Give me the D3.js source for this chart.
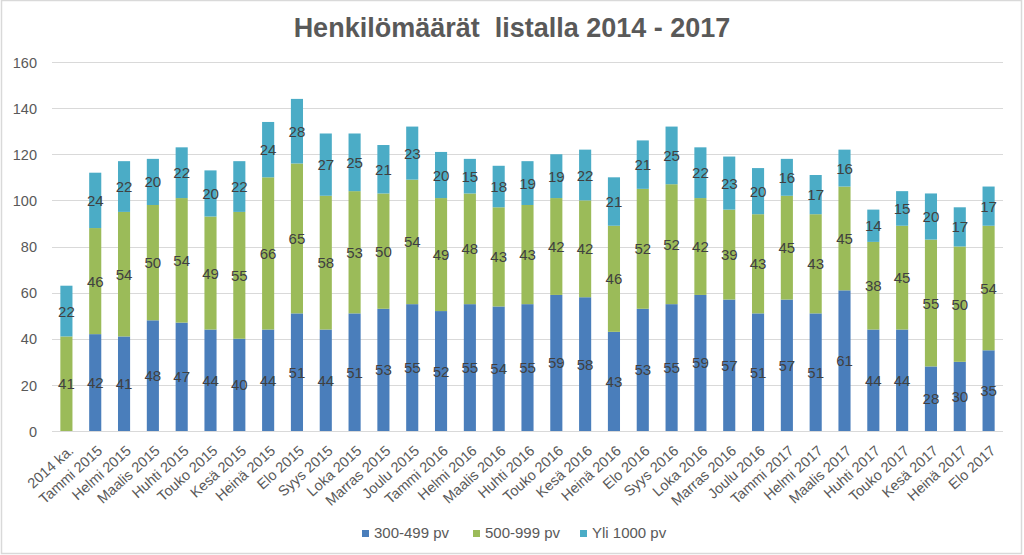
<!DOCTYPE html>
<html><head><meta charset="utf-8">
<script src="https://cdn.jsdelivr.net/npm/d3@7"></script>
<style>body{margin:0;background:#fff;}svg{display:block;font-family:"Liberation Sans",Arial,sans-serif;}</style>
</head><body><svg id="c" width="1024" height="555"></svg>
<script>
const categories = ["2014 ka.","Tammi 2015","Helmi 2015","Maalis 2015","Huhti 2015","Touko 2015","Kesä 2015","Heinä 2015","Elo 2015","Syys 2015","Loka 2015","Marras 2015","Joulu 2015","Tammi 2016","Helmi 2016","Maalis 2016","Huhti 2016","Touko 2016","Kesä 2016","Heinä 2016","Elo 2016","Syys 2016","Loka 2016","Marras 2016","Joulu 2016","Tammi 2017","Helmi 2017","Maalis 2017","Huhti 2017","Touko 2017","Kesä 2017","Heinä 2017","Elo 2017"];
const s300 = [0,42,41,48,47,44,40,44,51,44,51,53,55,52,55,54,55,59,58,43,53,55,59,57,51,57,51,61,44,44,28,30,35];
const s500 = [41,46,54,50,54,49,55,66,65,58,53,50,54,49,48,43,43,42,42,46,52,52,42,39,43,45,43,45,38,45,55,50,54];
const s1000 = [22,24,22,20,22,20,22,24,28,27,25,21,23,20,15,18,19,19,22,21,21,25,22,23,20,16,17,16,14,15,20,17,17];
const seriesNames = ["300-499 pv","500-999 pv","Yli 1000 pv"];
const yTicks = [0,20,40,60,80,100,120,140,160];
const title = "Henkilömäärät  listalla 2014 - 2017";
const colors = ["#4a7ebb","#9bbb59","#4bacc6"];

const svg = d3.select("#c");
svg.append("rect").attr("x",1.5).attr("y",0.5).attr("width",1020).attr("height",553)
  .attr("fill","#fff").attr("stroke","#d9d9d9").attr("stroke-width",1.5);

const L=52,R=1003,T=62,B=431;
const x = d3.scaleBand().domain(categories).range([L,R]).paddingInner(0.58).paddingOuter(0.29);
const y = d3.scaleLinear().domain([0,160]).range([B,T]);

// grid
svg.append("g").selectAll("line").data(yTicks).join("line")
  .attr("x1",L).attr("x2",R).attr("y1",d=>Math.round(y(d))+0.5).attr("y2",d=>Math.round(y(d))+0.5)
  .attr("stroke","#d9d9d9").attr("stroke-width",1);

// y axis labels
const ya = svg.append("g").attr("transform",`translate(${L-15},0)`)
  .call(d3.axisLeft(y).tickValues(yTicks).tickSize(0).tickPadding(0));
ya.select(".domain").remove();
ya.selectAll("text").attr("font-size",14.5).attr("fill","#595959").attr("dy","0.36em")
  .attr("font-family","Liberation Sans, Arial, sans-serif");

const table = categories.map((c,i)=>({cat:c,a:s300[i],b:s500[i],c2:s1000[i]}));
const stack = d3.stack().keys(["a","b","c2"])(table);

const g = svg.append("g");
stack.forEach((layer,k)=>{
  g.append("g").selectAll("rect").data(layer).join("rect")
    .attr("x",d=>x(d.data.cat)).attr("width",x.bandwidth())
    .attr("y",d=>y(d[1])).attr("height",d=>y(d[0])-y(d[1]))
    .attr("fill",colors[k]);
});
stack.forEach((layer,k)=>{
  g.append("g").selectAll("text").data(layer.filter(d=>d[1]-d[0]>0)).join("text")
    .attr("x",d=>x(d.data.cat)+x.bandwidth()/2)
    .attr("y",d=>y((d[0]+d[1])/2)+5.5)
    .attr("text-anchor","middle").attr("font-size",15).attr("fill","#404040")
    .text(d=>d[1]-d[0]);
});

// x axis labels
const xa = svg.append("g").attr("transform",`translate(0,${B})`)
  .call(d3.axisBottom(x).tickSize(0).tickPadding(0));
xa.select(".domain").remove();
xa.selectAll("text").attr("font-size",14.5).attr("fill","#595959")
  .attr("text-anchor","end").attr("dy",0).attr("y",0)
  .attr("transform","translate(8,21) rotate(-42)");

// title
svg.append("text").attr("x",512).attr("y",37).attr("text-anchor","middle")
  .attr("font-size",27).attr("font-weight","bold").attr("fill","#595959")
  .attr("xml:space","preserve").style("white-space","pre").text(title);

// legend
const legX = [362,473,580];
const lg = svg.append("g");
seriesNames.forEach((n,i)=>{
  lg.append("rect").attr("x",legX[i]).attr("y",530).attr("width",7).attr("height",7).attr("fill",colors[i]);
  lg.append("text").attr("x",legX[i]+12).attr("y",538).attr("font-size",15).attr("fill","#595959").text(n);
});
</script></body></html>
